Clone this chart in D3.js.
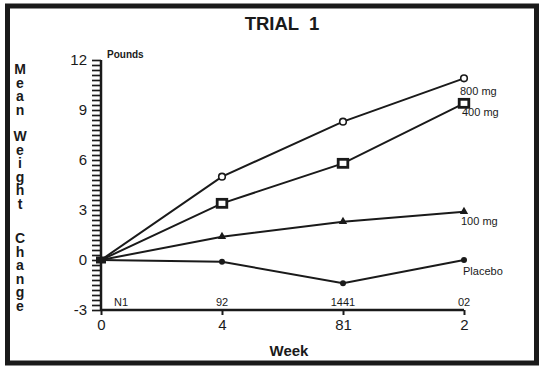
<!DOCTYPE html>
<html><head><meta charset="utf-8">
<script src="https://cdn.jsdelivr.net/npm/d3@7"></script>
<style>
html,body{margin:0;padding:0;background:#fff;}
svg{display:block;font-family:"Liberation Sans",Arial,Helvetica,sans-serif;}
</style></head>
<body>
<script>
// ---- data ----
const weeks = ["0", "4", "81", "2"];
const nLabels = ["N1", "92", "1441", "02"];
const yTickLabels = [-3, 0, 3, 6, 9, 12];
const seriesNames = ["800 mg", "400 mg", "100 mg", "Placebo"];
const seriesMarkers = ["openCircle", "openSquare", "triangle", "dot"];
const mg800 = [0, 5.0, 8.3, 10.9];
const mg400 = [0, 3.4, 5.8, 9.4];
const mg100 = [0, 1.4, 2.3, 2.9];
const placebo = [0, -0.1, -1.4, 0.0];
const seriesValues = [mg800, mg400, mg100, placebo];
const yLabelWords = ["Mean", "Weight", "Change"];

const W = 543, H = 371;
const svg = d3.select("body").append("svg").attr("width", W).attr("height", H);

// frame
svg.append("rect").attr("x", 7.5).attr("y", 6).attr("width", 529).attr("height", 357)
  .attr("fill", "none").attr("stroke", "#1a1a1a").attr("stroke-width", 5);

const x = d3.scalePoint().domain(weeks).range([101, 464]);
const y = d3.scaleLinear().domain([-3, 12]).range([310, 60]);

// title
svg.append("text").attr("x", 282).attr("y", 30).attr("text-anchor", "middle")
  .attr("font-size", 18.5).attr("font-weight", "bold").attr("fill", "#1a1a1a")
  .style("white-space", "pre").text("TRIAL  1");

// y axis with minor ticks every 0.3
const minor = d3.range(0, 51).map(i => -3 + i * 0.3);
const yAxis = d3.axisLeft(y).tickValues(minor).tickSize(9).tickPadding(5)
  .tickFormat(d => {
    const r = Math.round(d);
    return (Math.abs(d - r) < 1e-6 && yTickLabels.includes(r)) ? String(r) : "";
  });
const gy = svg.append("g").attr("transform", "translate(101,0)").call(yAxis);
gy.select(".domain").attr("stroke", "#1a1a1a").attr("stroke-width", 2.5).attr("d", "M0,60V310");
gy.selectAll(".tick line").attr("stroke", "#1a1a1a").attr("stroke-width", 1.7);
gy.selectAll(".tick text").attr("font-size", 15).attr("fill", "#1a1a1a")
  .attr("font-family", "'Liberation Sans',Arial,sans-serif");

// x axis
const xAxis = d3.axisBottom(x).tickSize(5).tickPadding(4);
const gx = svg.append("g").attr("transform", `translate(0,${y(-3)})`).call(xAxis);
gx.select(".domain").attr("stroke", "#1a1a1a").attr("stroke-width", 2.5).attr("d", "M101,0H464");
gx.selectAll(".tick line").attr("stroke", "#1a1a1a").attr("stroke-width", 2);
gx.selectAll(".tick text").attr("font-size", 15).attr("fill", "#1a1a1a")
  .attr("font-family", "'Liberation Sans',Arial,sans-serif");

// N labels
svg.append("g").selectAll("text").data(weeks).join("text")
  .attr("x", (d, i) => x(d) + (i === 0 ? 20 : 0)).attr("y", y(-3) - 4)
  .attr("text-anchor", "middle").attr("font-size", 11).attr("fill", "#1a1a1a")
  .text((d, i) => nLabels[i]);

// Pounds
svg.append("text").attr("x", 107).attr("y", 58).attr("font-size", 10)
  .attr("font-weight", "bold").attr("fill", "#1a1a1a").text("Pounds");

// Week
svg.append("text").attr("x", 289).attr("y", 356).attr("text-anchor", "middle")
  .attr("font-size", 15).attr("font-weight", "bold").attr("fill", "#1a1a1a").text("Week");

// vertical stacked y label: one upright vertical text per word
const wordTops = [61, 128, 230];
svg.append("g").selectAll("text").data(yLabelWords).join("text")
  .attr("x", 20).attr("y", (d, i) => wordTops[i])
  .style("writing-mode", "vertical-rl").style("text-orientation", "upright")
  .style("letter-spacing", "-2.5px")
  .attr("font-size", 14).attr("font-weight", "bold").attr("fill", "#1a1a1a")
  .text(d => d);

// lines
const line = d3.line().x((d, i) => x(weeks[i])).y(d => y(d));
seriesValues.forEach(vals => {
  svg.append("path").datum(vals).attr("d", line).attr("fill", "none")
    .attr("stroke", "#1a1a1a").attr("stroke-width", 2);
});

// markers
const drawMarker = (g, type, cx, cy) => {
  if (type === "openCircle") {
    g.append("circle").attr("cx", cx).attr("cy", cy).attr("r", 3.3)
      .attr("fill", "#fff").attr("stroke", "#1a1a1a").attr("stroke-width", 1.6);
  } else if (type === "openSquare") {
    g.append("rect").attr("x", cx - 4.8).attr("y", cy - 4).attr("width", 9.6).attr("height", 8)
      .attr("fill", "#fff").attr("stroke", "#1a1a1a").attr("stroke-width", 2.8);
  } else if (type === "triangle") {
    g.append("path").attr("d", d3.symbol(d3.symbolTriangle, 30)()).attr("transform", `translate(${cx},${cy})`)
      .attr("fill", "#1a1a1a");
  } else {
    g.append("circle").attr("cx", cx).attr("cy", cy).attr("r", 3).attr("fill", "#1a1a1a");
  }
};
const mg = svg.append("g");
seriesValues.forEach((vals, si) => {
  vals.forEach((v, i) => { if (i > 0) drawMarker(mg, seriesMarkers[si], x(weeks[i]), y(v)); });
});
// origin: overlapping markers
mg.append("rect").attr("x", x(weeks[0]) - 5).attr("y", y(0) - 3.5).attr("width", 10).attr("height", 7).attr("fill", "#1a1a1a");

// series labels
const labelOffsets = [[-4, 17], [-2, 13], [-3, 13], [-1, 15]];
svg.append("g").selectAll("text").data(seriesNames).join("text")
  .attr("x", (d, i) => x(weeks[3]) + labelOffsets[i][0])
  .attr("y", (d, i) => y(seriesValues[i][3]) + labelOffsets[i][1])
  .attr("font-size", 11).attr("fill", "#1a1a1a").text(d => d);
</script>
</body></html>
